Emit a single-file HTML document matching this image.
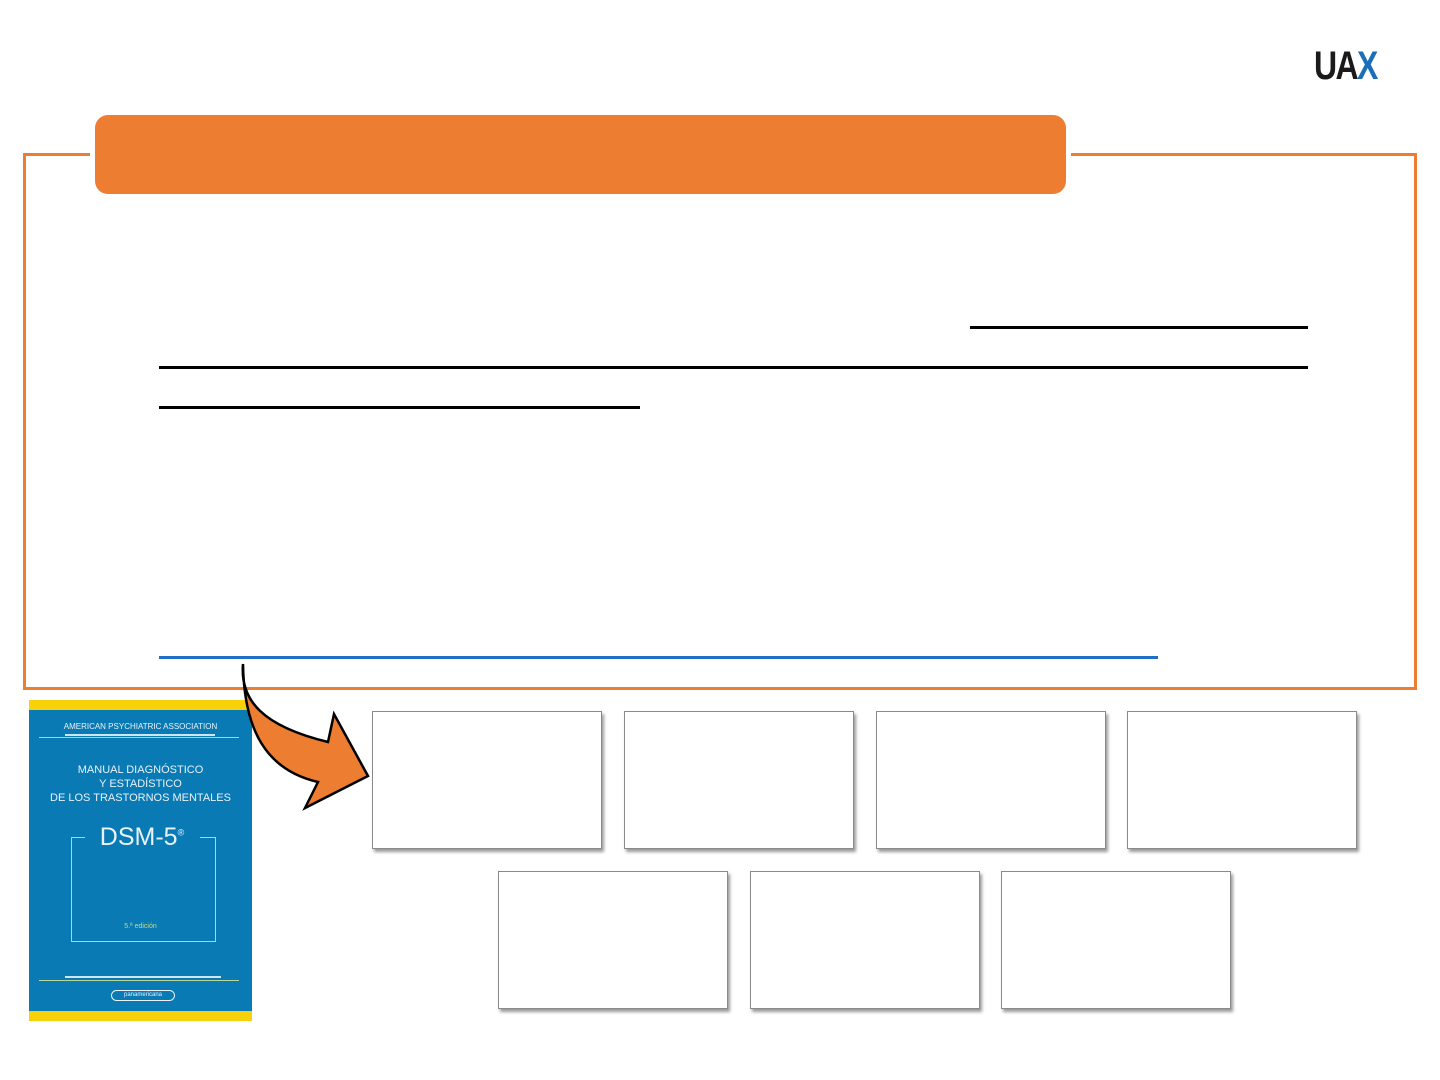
<!DOCTYPE html>
<html><head><meta charset="utf-8"><style>
body{margin:0;width:1440px;height:1080px;background:#fff;position:relative;overflow:hidden;font-family:"Liberation Sans",sans-serif}
.a{position:absolute}
.box{position:absolute;width:228px;height:136px;border:1px solid #8a8a8a;background:#fff;box-shadow:2px 3px 3px #9a9a9a}
</style></head><body>
<div class="a" style="left:1314px;top:44px;font-size:40px;font-weight:bold;letter-spacing:-2px;transform:scaleX(0.8);transform-origin:left;color:#1a1a1a">UA<span style="color:#1a6fb8">X</span></div>
<div class="a" style="left:23px;top:153px;width:1388px;height:531px;border:3px solid #ed7d31"></div>
<div class="a" style="left:90px;top:150px;width:981px;height:10px;background:#fff"></div>
<div class="a" style="left:95px;top:115px;width:971px;height:79px;background:#ed7d31;border-radius:13px"></div>
<div class="a" style="left:970px;top:326px;width:338px;height:3px;background:#000"></div>
<div class="a" style="left:159px;top:366px;width:1149px;height:3px;background:#000"></div>
<div class="a" style="left:159px;top:406px;width:481px;height:3px;background:#000"></div>
<div class="a" style="left:159px;top:656px;width:999px;height:3px;background:#1f6fc5"></div>
<div class="a" style="left:29px;top:700px;width:223px;height:321px;background:#0a7ab5;color:#e8f2f8;text-align:center">
 <div class="a" style="left:0;top:0;width:223px;height:10px;background:#f7d20a"></div>
 <div class="a" style="left:0;bottom:0;width:223px;height:10px;background:#f7d20a"></div>
 <div class="a" style="left:0;top:22px;width:223px;font-size:8px">AMERICAN PSYCHIATRIC ASSOCIATION</div>
 <div class="a" style="left:36px;top:34px;width:150px;height:2px;background:#cfe6f0"></div>
 <div class="a" style="left:10px;top:37px;width:200px;height:1px;background:#b8d79a"></div>
 <div class="a" style="left:0;top:63px;width:223px;font-size:11px;line-height:14px">MANUAL DIAGNÓSTICO<br>Y ESTADÍSTICO<br>DE LOS TRASTORNOS MENTALES</div>
 <div class="a" style="left:42px;top:137px;width:143px;height:104px;border:1px solid #c8d97a;border-top:none"></div>
 <div class="a" style="left:42px;top:137px;width:14px;height:1px;background:#c8d97a"></div>
 <div class="a" style="left:171px;top:137px;width:15px;height:1px;background:#c8d97a"></div>
 <div class="a" style="left:60px;top:123px;width:106px;background:#0a7ab5;font-size:25px">DSM-5<sup style="font-size:9px">®</sup></div>
 <div class="a" style="left:0;top:223px;width:223px;font-size:7px;color:#c8d97a">5.ª edición</div>
 <div class="a" style="left:36px;top:276px;width:156px;height:2px;background:#cfe6f0"></div>
 <div class="a" style="left:10px;top:280px;width:200px;height:1px;background:#b8d79a"></div>
 <div class="a" style="left:82px;top:290px;width:62px;height:9px;border:1px solid #e8f2f8;border-radius:6px;font-size:6px;line-height:9px">panamericana</div>
</div>
<svg class="a" style="left:0;top:0" width="1440" height="1080">
<path d="M243,664 C240,700 262,726 328,742 L334,714 L368,776 L305,808 L318,782 C266,770 244,730 243,664 Z" fill="#ed7d31" stroke="#000" stroke-width="2.5" stroke-linejoin="miter"/>
</svg>
<div class="box" style="left:372px;top:711px"></div>
<div class="box" style="left:624px;top:711px"></div>
<div class="box" style="left:876px;top:711px"></div>
<div class="box" style="left:1127px;top:711px"></div>
<div class="box" style="left:498px;top:871px"></div>
<div class="box" style="left:750px;top:871px"></div>
<div class="box" style="left:1001px;top:871px"></div>
</body></html>
